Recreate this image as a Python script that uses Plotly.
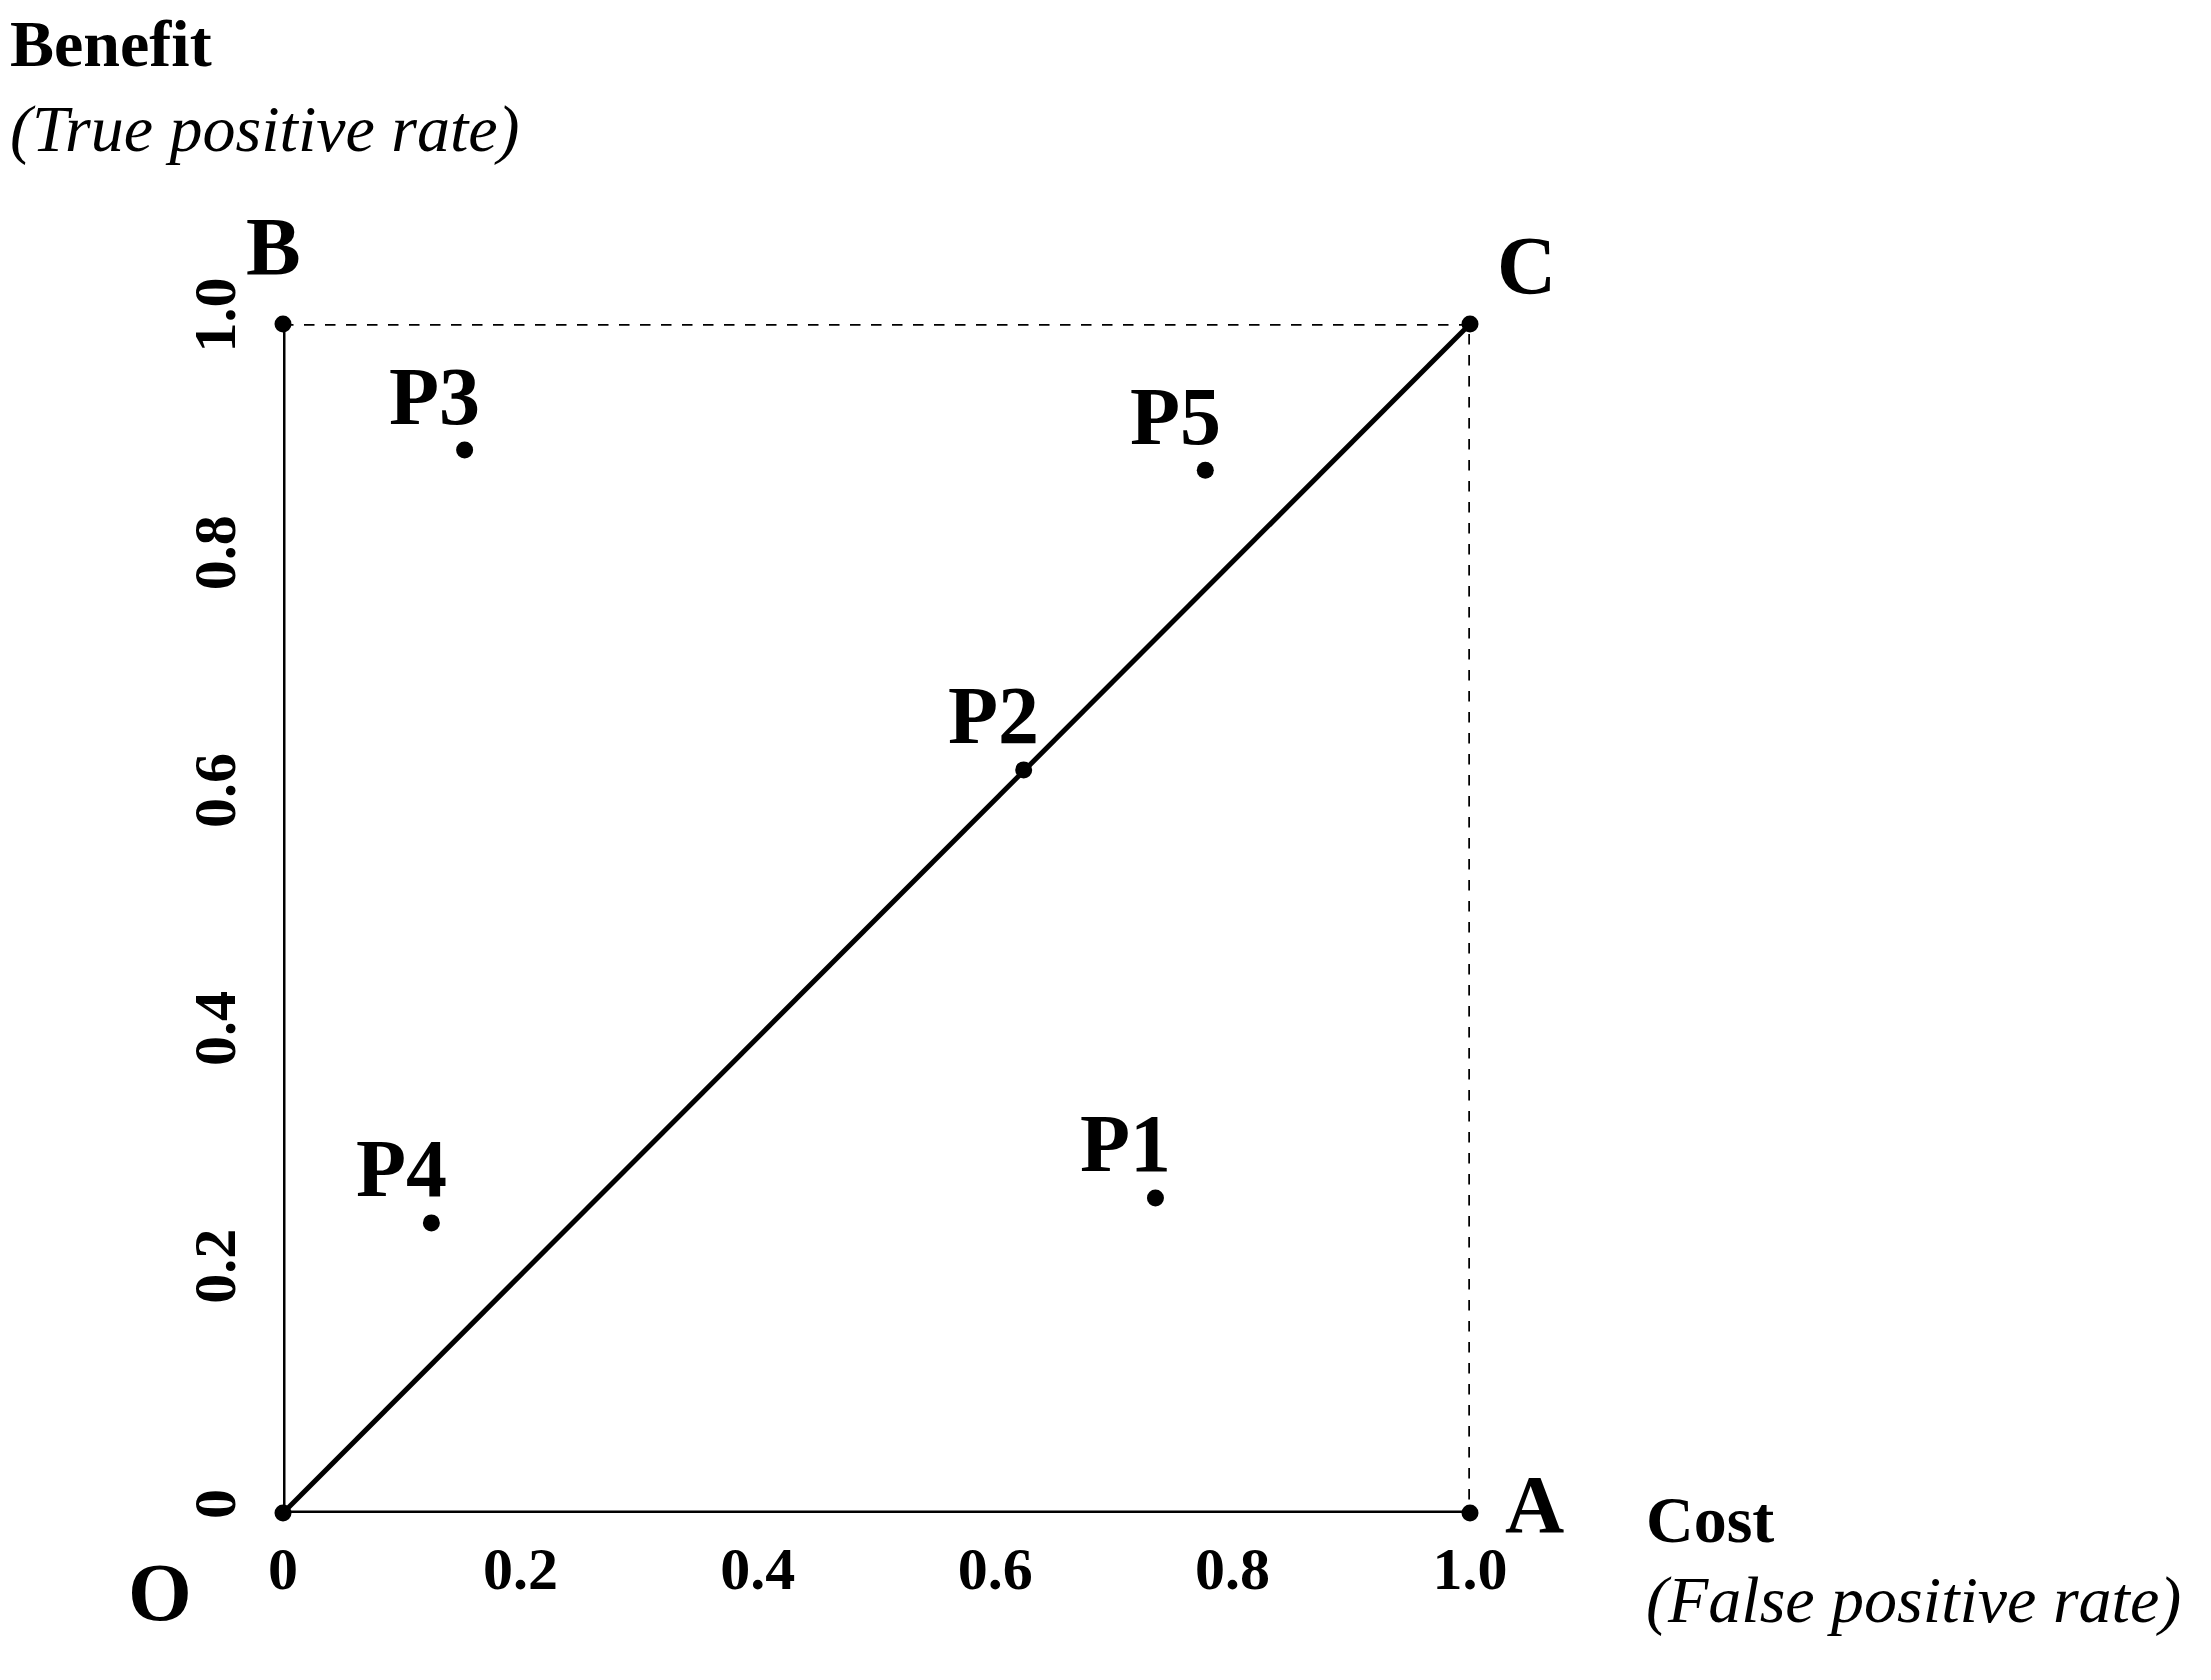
import plotly.graph_objects as go

# points in the ROC-like cost/benefit square
point_names = ["P1", "P2", "P3", "P4", "P5"]
cost_vals = [0.735, 0.624, 0.153, 0.125, 0.777]
benefit_vals = [0.265, 0.625, 0.894, 0.244, 0.877]

# corners of the square
corner_names = ["O", "A", "B", "C"]
corner_x = [0, 1, 0, 1]
corner_y = [0, 0, 1, 1]

tick_vals = [0, 0.2, 0.4, 0.6, 0.8, 1.0]
tick_text = ["0", "0.2", "0.4", "0.6", "0.8", "1.0"]

FONT = "Liberation Serif"
fig = go.Figure()

line = dict(color="black", width=5)
dash = dict(color="black", width=3.5, dash="dash")
# solid: O-A, O-B, O-C
fig.add_trace(go.Scatter(x=[corner_x[1], corner_x[0], corner_x[2]],
                         y=[corner_y[1], corner_y[0], corner_y[2]],
                         mode="lines", line=line, cliponaxis=False))
fig.add_trace(go.Scatter(x=[corner_x[0], corner_x[3]], y=[corner_y[0], corner_y[3]],
                         mode="lines", line=line, cliponaxis=False))
# dashed: B-C-A
fig.add_trace(go.Scatter(x=[corner_x[2], corner_x[3], corner_x[1]],
                         y=[corner_y[2], corner_y[3], corner_y[1]],
                         mode="lines", line=dash, cliponaxis=False))
fig.add_trace(go.Scatter(x=corner_x, y=corner_y, mode="markers",
                         marker=dict(color="black", size=17), cliponaxis=False))
fig.add_trace(go.Scatter(x=cost_vals, y=benefit_vals, mode="markers",
                         marker=dict(color="black", size=17), cliponaxis=False))

for n, x, y in zip(point_names, cost_vals, benefit_vals):
    fig.add_annotation(x=x, y=y, text=f"<b>{n}</b>", showarrow=False,
                       xshift=-30, yshift=54, font=dict(family=FONT, size=82, color="black"))

corner_pos = {"O": (-0.132, -0.107), "A": (1.081, -0.033), "B": (-0.033, 1.105), "C": (1.074, 1.089)}
for n in corner_names:
    px_, py_ = corner_pos[n]
    fig.add_annotation(x=px_, y=py_, xref="paper", yref="paper", text=f"<b>{n}</b>",
                       showarrow=False, font=dict(family=FONT, size=82, color="black"))

txt = [("<b>Benefit</b>", -0.232, 1.268), ("<i>(True positive rate)</i>", -0.232, 1.197),
       ("<b>Cost</b>", 1.147, -0.038), ("<i>(False positive rate)</i>", 1.147, -0.106)]
for t, x, y in txt:
    fig.add_annotation(x=x, y=y, xref="paper", yref="paper", text=t, showarrow=False,
                       xanchor="left", font=dict(family=FONT, size=66, color="black"))

axis_font = dict(family=FONT, size=60, color="black")
fig.update_xaxes(range=[0, 1], tickvals=tick_vals, ticktext=[f"<b>{t}</b>" for t in tick_text],
                 showgrid=False, zeroline=False, showline=False, ticks="",
                 tickfont=axis_font, ticklabelstandoff=15)
fig.update_yaxes(range=[0, 1], tickvals=tick_vals, ticktext=[f"<b>{t}</b>" for t in tick_text],
                 showgrid=False, zeroline=False, showline=False, ticks="", tickangle=-90,
                 tickfont=axis_font, ticklabelstandoff=35)
fig.update_layout(width=2211, height=1680, showlegend=False, plot_bgcolor="white",
                  paper_bgcolor="white", margin=dict(l=275, r=749, t=316, b=175))
fig.write_html("out.html")
